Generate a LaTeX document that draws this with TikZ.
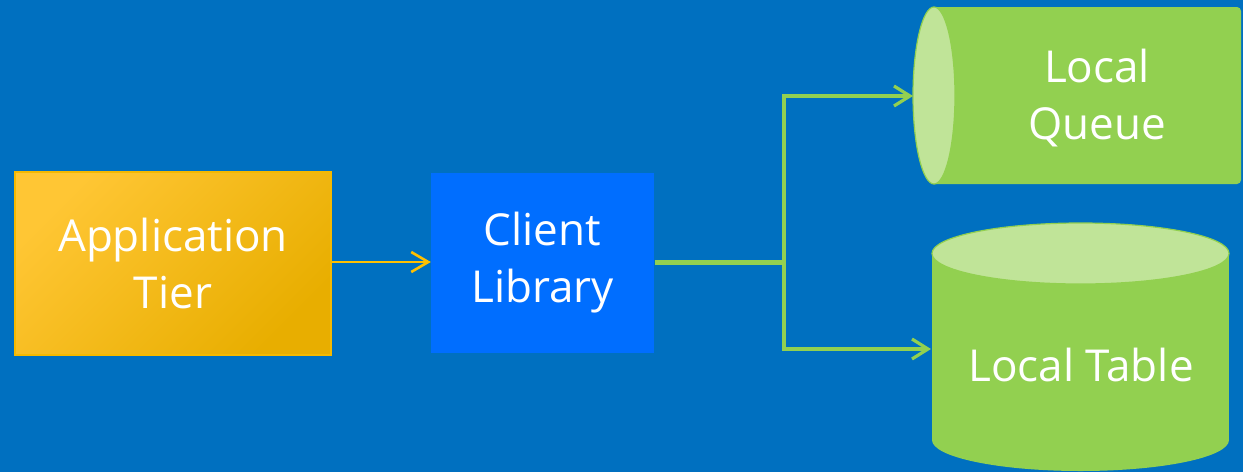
\documentclass[tikz,border=0pt]{standalone}
\usepackage{fontspec}
\setmainfont{Open Sans}
\usetikzlibrary{arrows.meta}
\definecolor{bg}{RGB}{0,112,192}
\definecolor{clientblue}{RGB}{0,110,255}
\definecolor{gold}{RGB}{255,192,0}
\definecolor{goldlight}{RGB}{255,198,52}
\definecolor{golddark}{RGB}{232,174,0}
\definecolor{goldedge}{RGB}{245,185,0}
\definecolor{leaf}{RGB}{146,208,80}
\definecolor{leaflight}{RGB}{192,228,152}
\begin{document}
\begin{tikzpicture}[x=1pt,y=-1pt,
  lbl/.style={text=white, align=center, font=\fontsize{44}{57}\selectfont, inner sep=0pt},
  blockbox/.style={lbl, rectangle, minimum width=#1},
  goldlink/.style={draw=gold, line width=2.6pt, -{Straight Barb[length=17pt,width=20pt,line width=2.6pt]}},
  leaflink/.style={draw=leaf, line width=3.2pt},
  leafarrow/.style={leaflink, -{Straight Barb[length=16pt,width=20pt,line width=3.2pt]}}]

% backdrop
\fill[bg] (0,0) rectangle (1243,472);
\useasboundingbox (0,0) rectangle (1243,472);

% application tier block
\node[blockbox=316pt, minimum height=183pt, draw=goldedge, line width=1.2pt,
      top color=goldlight, middle color=gold, bottom color=golddark, shading angle=45]
  (app) at (173,263.5) {Application\\Tier};

% client library block
\node[blockbox=223pt, minimum height=180pt, fill=clientblue] (client) at (542.5,263) {Client\\Library};

% local queue: horizontal cylinder
\fill[leaf] (934,7) [rounded corners=4pt] -- (1241,7) -- (1241,184) [sharp corners] -- (934,184) -- cycle;
\filldraw[fill=leaflight, draw=leaf, line width=1.2pt] (934,95.5) ellipse [x radius=21, y radius=88.5];
\node[lbl] (queue) at (1097,98) {Local\\Queue};

% local table: upright cylinder
\fill[leaf] (932,253.5) rectangle (1229,440);
\fill[leaf] (1080.5,440) ellipse [x radius=148.5, y radius=31];
\filldraw[fill=leaflight, draw=leaf, line width=1.2pt] (1080.5,253.5) ellipse [x radius=148.5, y radius=30.5];
\node[lbl] (table) at (1081,365) {Local Table};

% connector end points
\coordinate (split) at (784,262);
\coordinate (qin) at (913,96);
\coordinate (tin) at (931,349);
\coordinate (cout) at (655,262);

% connectors
\draw[goldlink] (app.east |- cout) -- (client.west |- cout);
\draw[leaflink, line width=5pt] (cout) -- (split);
\draw[leafarrow] (split) |- (qin);
\draw[leafarrow] (split) |- (tin);
\end{tikzpicture}
\end{document}
